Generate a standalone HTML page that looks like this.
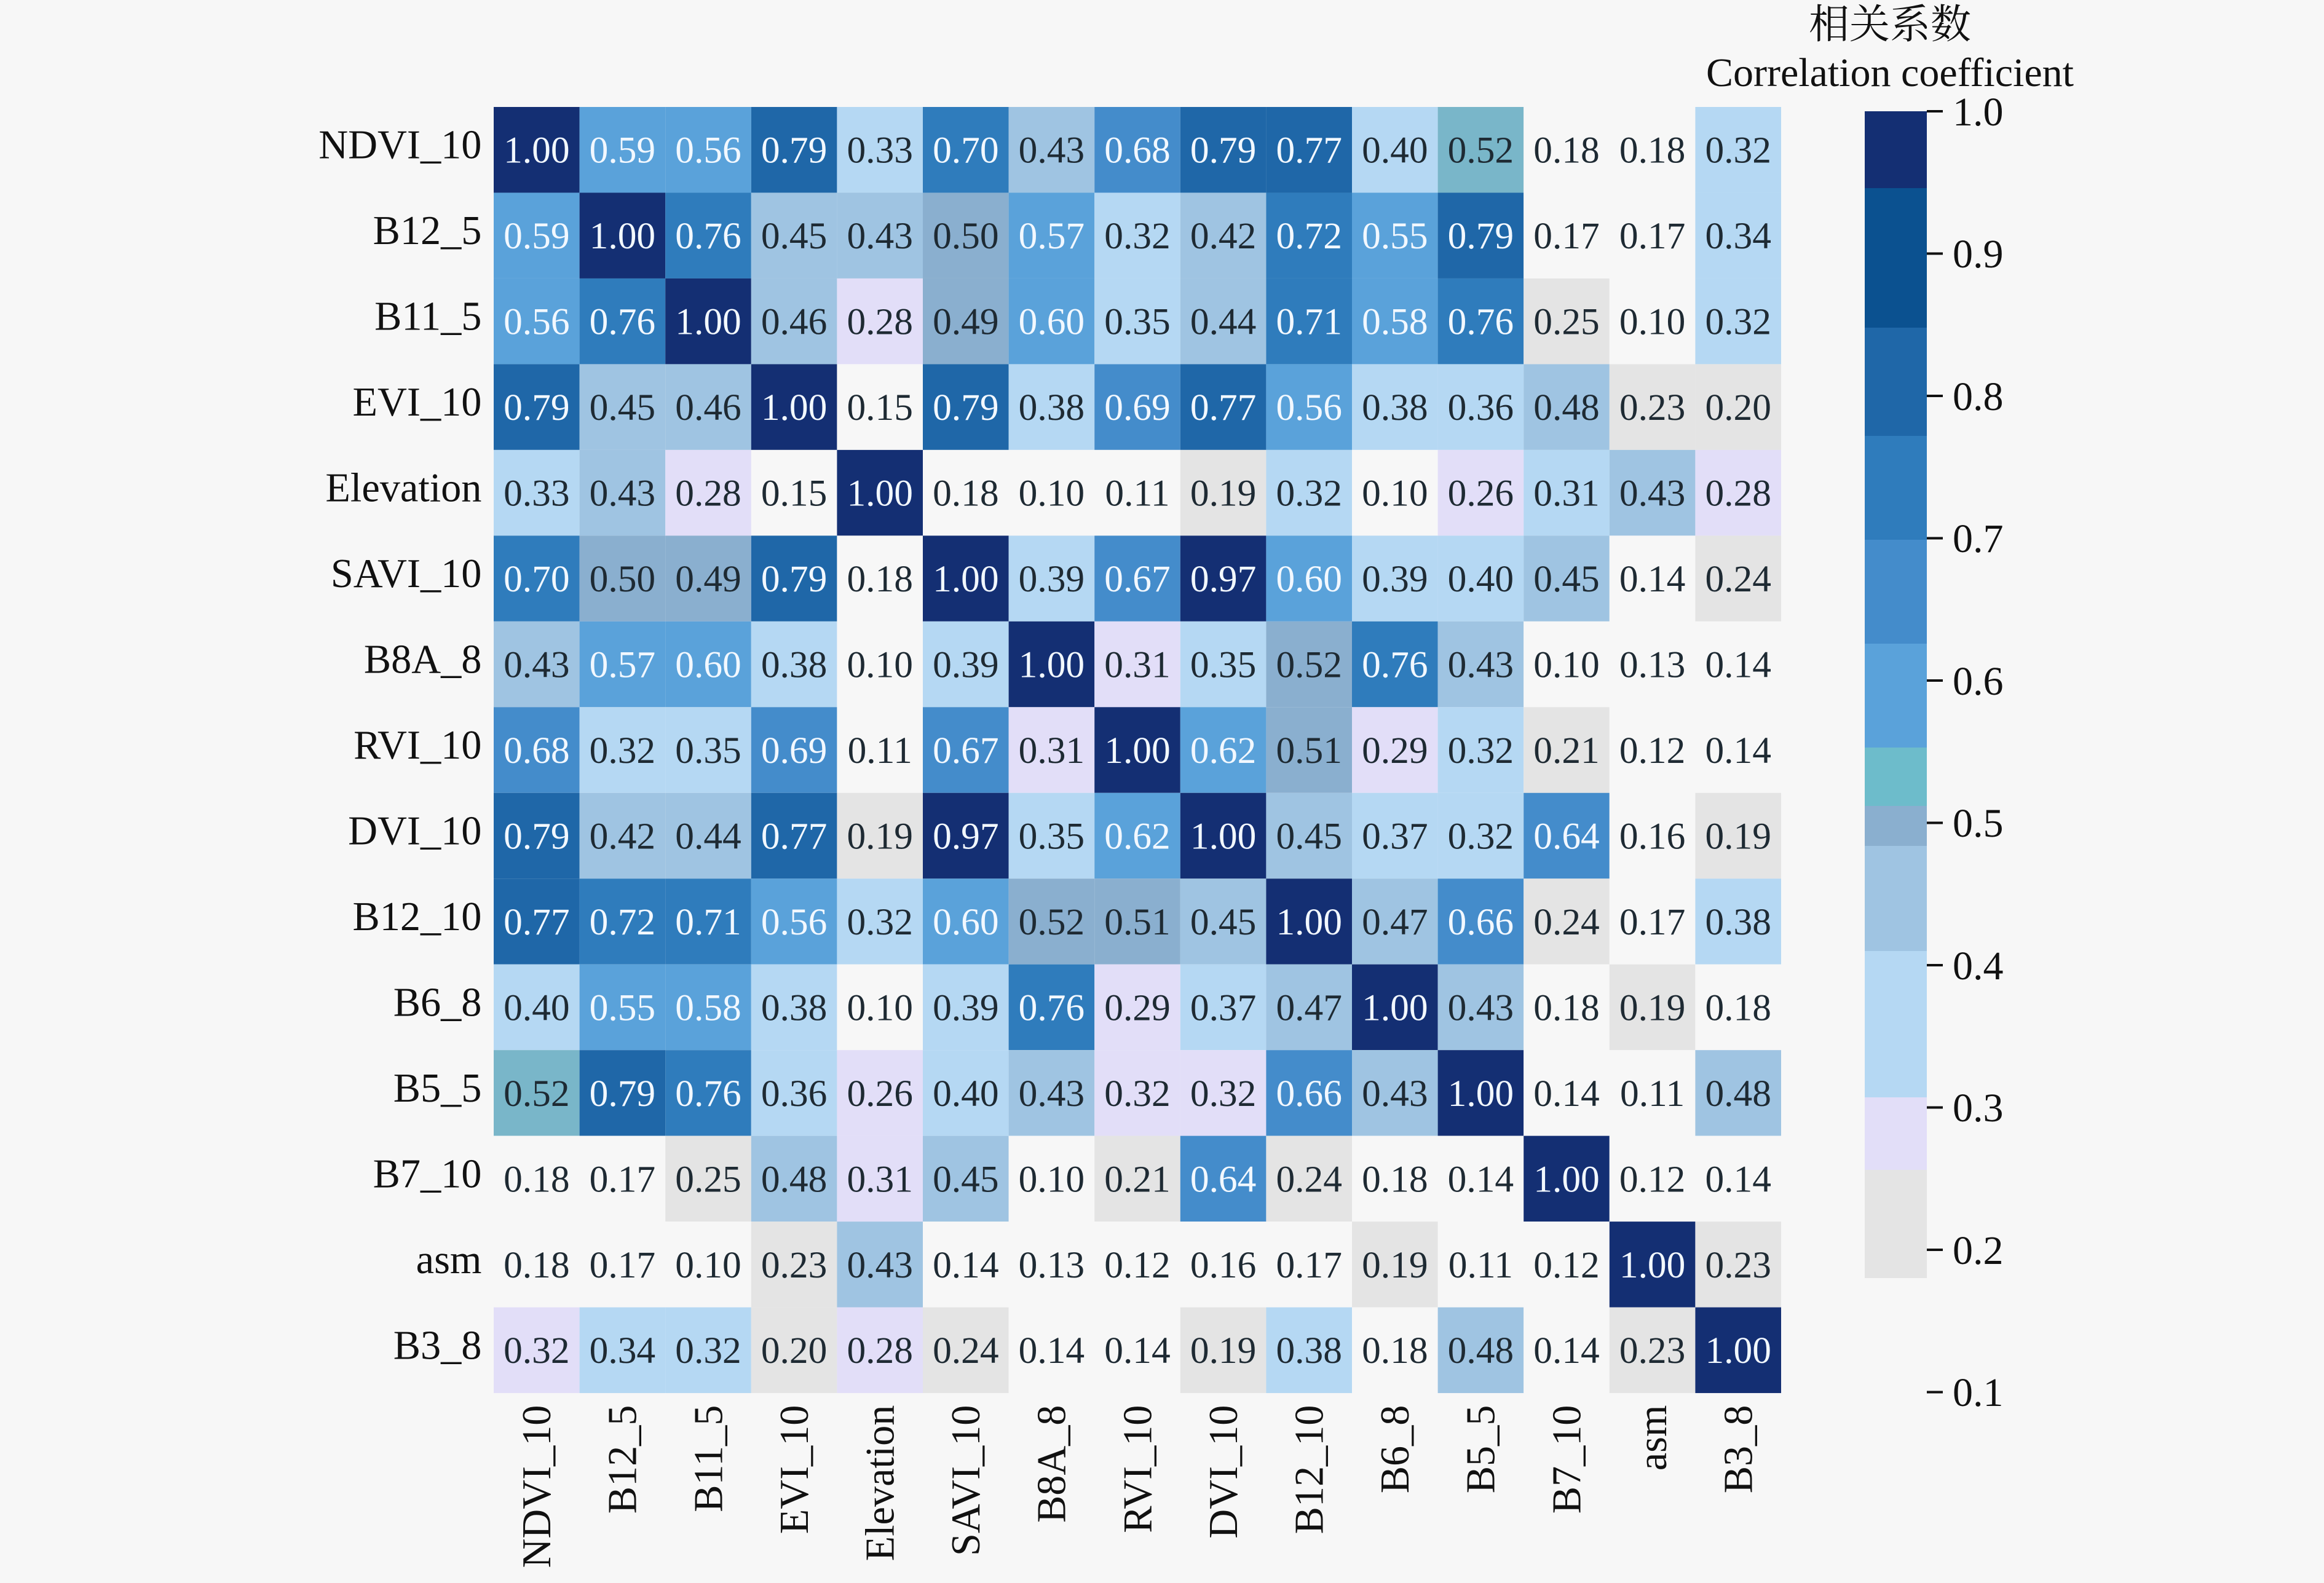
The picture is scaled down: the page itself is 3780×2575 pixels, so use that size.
<!DOCTYPE html>
<html><head><meta charset="utf-8"><style>
html,body{margin:0;padding:0;background:#f7f7f7;}
svg{display:block;font-family:"Liberation Serif","Noto Serif CJK SC",serif;}
.A{fill:#142f73}.C{fill:#1f67a8}.D{fill:#2f7cbc}.E{fill:#448ccb}.F{fill:#5aa2da}.G{fill:#79b6c9}.H{fill:#8aafcf}.I{fill:#9fc4e2}.J{fill:#b5d8f3}.K{fill:#e2def8}.L{fill:#e4e4e4}.M{fill:#f7f7f7}
#cells text{font-size:0.44px;text-anchor:middle;fill:#1e2a33}
#cells text.w{fill:#f2f8ff}
.rl{font-size:0.475px;text-anchor:end;fill:#111}
.cl{font-size:0.475px;text-anchor:end;fill:#111}
</style></head><body>
<svg width="3780" height="2575" viewBox="0 0 3780 2575" xmlns="http://www.w3.org/2000/svg">
<rect width="3780" height="2575" fill="#f7f7f7"/>
<g transform="translate(803,174) scale(139.6,139.47)">
<g id="cells">
<rect class="A" x="0" y="0" width="1" height="1"/><text class="w" x="0.5" y="0.65">1.00</text>
<rect class="F" x="1" y="0" width="1" height="1"/><text class="w" x="1.5" y="0.65">0.59</text>
<rect class="F" x="2" y="0" width="1" height="1"/><text class="w" x="2.5" y="0.65">0.56</text>
<rect class="C" x="3" y="0" width="1" height="1"/><text class="w" x="3.5" y="0.65">0.79</text>
<rect class="J" x="4" y="0" width="1" height="1"/><text x="4.5" y="0.65">0.33</text>
<rect class="D" x="5" y="0" width="1" height="1"/><text class="w" x="5.5" y="0.65">0.70</text>
<rect class="I" x="6" y="0" width="1" height="1"/><text x="6.5" y="0.65">0.43</text>
<rect class="E" x="7" y="0" width="1" height="1"/><text class="w" x="7.5" y="0.65">0.68</text>
<rect class="C" x="8" y="0" width="1" height="1"/><text class="w" x="8.5" y="0.65">0.79</text>
<rect class="C" x="9" y="0" width="1" height="1"/><text class="w" x="9.5" y="0.65">0.77</text>
<rect class="J" x="10" y="0" width="1" height="1"/><text x="10.5" y="0.65">0.40</text>
<rect class="G" x="11" y="0" width="1" height="1"/><text x="11.5" y="0.65">0.52</text>
<rect class="M" x="12" y="0" width="1" height="1"/><text x="12.5" y="0.65">0.18</text>
<rect class="M" x="13" y="0" width="1" height="1"/><text x="13.5" y="0.65">0.18</text>
<rect class="J" x="14" y="0" width="1" height="1"/><text x="14.5" y="0.65">0.32</text>
<rect class="F" x="0" y="1" width="1" height="1"/><text class="w" x="0.5" y="1.65">0.59</text>
<rect class="A" x="1" y="1" width="1" height="1"/><text class="w" x="1.5" y="1.65">1.00</text>
<rect class="D" x="2" y="1" width="1" height="1"/><text class="w" x="2.5" y="1.65">0.76</text>
<rect class="I" x="3" y="1" width="1" height="1"/><text x="3.5" y="1.65">0.45</text>
<rect class="I" x="4" y="1" width="1" height="1"/><text x="4.5" y="1.65">0.43</text>
<rect class="H" x="5" y="1" width="1" height="1"/><text x="5.5" y="1.65">0.50</text>
<rect class="F" x="6" y="1" width="1" height="1"/><text class="w" x="6.5" y="1.65">0.57</text>
<rect class="J" x="7" y="1" width="1" height="1"/><text x="7.5" y="1.65">0.32</text>
<rect class="I" x="8" y="1" width="1" height="1"/><text x="8.5" y="1.65">0.42</text>
<rect class="D" x="9" y="1" width="1" height="1"/><text class="w" x="9.5" y="1.65">0.72</text>
<rect class="F" x="10" y="1" width="1" height="1"/><text class="w" x="10.5" y="1.65">0.55</text>
<rect class="C" x="11" y="1" width="1" height="1"/><text class="w" x="11.5" y="1.65">0.79</text>
<rect class="M" x="12" y="1" width="1" height="1"/><text x="12.5" y="1.65">0.17</text>
<rect class="M" x="13" y="1" width="1" height="1"/><text x="13.5" y="1.65">0.17</text>
<rect class="J" x="14" y="1" width="1" height="1"/><text x="14.5" y="1.65">0.34</text>
<rect class="F" x="0" y="2" width="1" height="1"/><text class="w" x="0.5" y="2.65">0.56</text>
<rect class="D" x="1" y="2" width="1" height="1"/><text class="w" x="1.5" y="2.65">0.76</text>
<rect class="A" x="2" y="2" width="1" height="1"/><text class="w" x="2.5" y="2.65">1.00</text>
<rect class="I" x="3" y="2" width="1" height="1"/><text x="3.5" y="2.65">0.46</text>
<rect class="K" x="4" y="2" width="1" height="1"/><text x="4.5" y="2.65">0.28</text>
<rect class="H" x="5" y="2" width="1" height="1"/><text x="5.5" y="2.65">0.49</text>
<rect class="F" x="6" y="2" width="1" height="1"/><text class="w" x="6.5" y="2.65">0.60</text>
<rect class="J" x="7" y="2" width="1" height="1"/><text x="7.5" y="2.65">0.35</text>
<rect class="I" x="8" y="2" width="1" height="1"/><text x="8.5" y="2.65">0.44</text>
<rect class="D" x="9" y="2" width="1" height="1"/><text class="w" x="9.5" y="2.65">0.71</text>
<rect class="F" x="10" y="2" width="1" height="1"/><text class="w" x="10.5" y="2.65">0.58</text>
<rect class="D" x="11" y="2" width="1" height="1"/><text class="w" x="11.5" y="2.65">0.76</text>
<rect class="L" x="12" y="2" width="1" height="1"/><text x="12.5" y="2.65">0.25</text>
<rect class="M" x="13" y="2" width="1" height="1"/><text x="13.5" y="2.65">0.10</text>
<rect class="J" x="14" y="2" width="1" height="1"/><text x="14.5" y="2.65">0.32</text>
<rect class="C" x="0" y="3" width="1" height="1"/><text class="w" x="0.5" y="3.65">0.79</text>
<rect class="I" x="1" y="3" width="1" height="1"/><text x="1.5" y="3.65">0.45</text>
<rect class="I" x="2" y="3" width="1" height="1"/><text x="2.5" y="3.65">0.46</text>
<rect class="A" x="3" y="3" width="1" height="1"/><text class="w" x="3.5" y="3.65">1.00</text>
<rect class="M" x="4" y="3" width="1" height="1"/><text x="4.5" y="3.65">0.15</text>
<rect class="C" x="5" y="3" width="1" height="1"/><text class="w" x="5.5" y="3.65">0.79</text>
<rect class="J" x="6" y="3" width="1" height="1"/><text x="6.5" y="3.65">0.38</text>
<rect class="E" x="7" y="3" width="1" height="1"/><text class="w" x="7.5" y="3.65">0.69</text>
<rect class="C" x="8" y="3" width="1" height="1"/><text class="w" x="8.5" y="3.65">0.77</text>
<rect class="F" x="9" y="3" width="1" height="1"/><text class="w" x="9.5" y="3.65">0.56</text>
<rect class="J" x="10" y="3" width="1" height="1"/><text x="10.5" y="3.65">0.38</text>
<rect class="J" x="11" y="3" width="1" height="1"/><text x="11.5" y="3.65">0.36</text>
<rect class="I" x="12" y="3" width="1" height="1"/><text x="12.5" y="3.65">0.48</text>
<rect class="L" x="13" y="3" width="1" height="1"/><text x="13.5" y="3.65">0.23</text>
<rect class="L" x="14" y="3" width="1" height="1"/><text x="14.5" y="3.65">0.20</text>
<rect class="J" x="0" y="4" width="1" height="1"/><text x="0.5" y="4.65">0.33</text>
<rect class="I" x="1" y="4" width="1" height="1"/><text x="1.5" y="4.65">0.43</text>
<rect class="K" x="2" y="4" width="1" height="1"/><text x="2.5" y="4.65">0.28</text>
<rect class="M" x="3" y="4" width="1" height="1"/><text x="3.5" y="4.65">0.15</text>
<rect class="A" x="4" y="4" width="1" height="1"/><text class="w" x="4.5" y="4.65">1.00</text>
<rect class="M" x="5" y="4" width="1" height="1"/><text x="5.5" y="4.65">0.18</text>
<rect class="M" x="6" y="4" width="1" height="1"/><text x="6.5" y="4.65">0.10</text>
<rect class="M" x="7" y="4" width="1" height="1"/><text x="7.5" y="4.65">0.11</text>
<rect class="L" x="8" y="4" width="1" height="1"/><text x="8.5" y="4.65">0.19</text>
<rect class="J" x="9" y="4" width="1" height="1"/><text x="9.5" y="4.65">0.32</text>
<rect class="M" x="10" y="4" width="1" height="1"/><text x="10.5" y="4.65">0.10</text>
<rect class="K" x="11" y="4" width="1" height="1"/><text x="11.5" y="4.65">0.26</text>
<rect class="J" x="12" y="4" width="1" height="1"/><text x="12.5" y="4.65">0.31</text>
<rect class="I" x="13" y="4" width="1" height="1"/><text x="13.5" y="4.65">0.43</text>
<rect class="K" x="14" y="4" width="1" height="1"/><text x="14.5" y="4.65">0.28</text>
<rect class="D" x="0" y="5" width="1" height="1"/><text class="w" x="0.5" y="5.65">0.70</text>
<rect class="H" x="1" y="5" width="1" height="1"/><text x="1.5" y="5.65">0.50</text>
<rect class="H" x="2" y="5" width="1" height="1"/><text x="2.5" y="5.65">0.49</text>
<rect class="C" x="3" y="5" width="1" height="1"/><text class="w" x="3.5" y="5.65">0.79</text>
<rect class="M" x="4" y="5" width="1" height="1"/><text x="4.5" y="5.65">0.18</text>
<rect class="A" x="5" y="5" width="1" height="1"/><text class="w" x="5.5" y="5.65">1.00</text>
<rect class="J" x="6" y="5" width="1" height="1"/><text x="6.5" y="5.65">0.39</text>
<rect class="E" x="7" y="5" width="1" height="1"/><text class="w" x="7.5" y="5.65">0.67</text>
<rect class="A" x="8" y="5" width="1" height="1"/><text class="w" x="8.5" y="5.65">0.97</text>
<rect class="F" x="9" y="5" width="1" height="1"/><text class="w" x="9.5" y="5.65">0.60</text>
<rect class="J" x="10" y="5" width="1" height="1"/><text x="10.5" y="5.65">0.39</text>
<rect class="J" x="11" y="5" width="1" height="1"/><text x="11.5" y="5.65">0.40</text>
<rect class="I" x="12" y="5" width="1" height="1"/><text x="12.5" y="5.65">0.45</text>
<rect class="M" x="13" y="5" width="1" height="1"/><text x="13.5" y="5.65">0.14</text>
<rect class="L" x="14" y="5" width="1" height="1"/><text x="14.5" y="5.65">0.24</text>
<rect class="I" x="0" y="6" width="1" height="1"/><text x="0.5" y="6.65">0.43</text>
<rect class="F" x="1" y="6" width="1" height="1"/><text class="w" x="1.5" y="6.65">0.57</text>
<rect class="F" x="2" y="6" width="1" height="1"/><text class="w" x="2.5" y="6.65">0.60</text>
<rect class="J" x="3" y="6" width="1" height="1"/><text x="3.5" y="6.65">0.38</text>
<rect class="M" x="4" y="6" width="1" height="1"/><text x="4.5" y="6.65">0.10</text>
<rect class="J" x="5" y="6" width="1" height="1"/><text x="5.5" y="6.65">0.39</text>
<rect class="A" x="6" y="6" width="1" height="1"/><text class="w" x="6.5" y="6.65">1.00</text>
<rect class="K" x="7" y="6" width="1" height="1"/><text x="7.5" y="6.65">0.31</text>
<rect class="J" x="8" y="6" width="1" height="1"/><text x="8.5" y="6.65">0.35</text>
<rect class="H" x="9" y="6" width="1" height="1"/><text x="9.5" y="6.65">0.52</text>
<rect class="D" x="10" y="6" width="1" height="1"/><text class="w" x="10.5" y="6.65">0.76</text>
<rect class="I" x="11" y="6" width="1" height="1"/><text x="11.5" y="6.65">0.43</text>
<rect class="M" x="12" y="6" width="1" height="1"/><text x="12.5" y="6.65">0.10</text>
<rect class="M" x="13" y="6" width="1" height="1"/><text x="13.5" y="6.65">0.13</text>
<rect class="M" x="14" y="6" width="1" height="1"/><text x="14.5" y="6.65">0.14</text>
<rect class="E" x="0" y="7" width="1" height="1"/><text class="w" x="0.5" y="7.65">0.68</text>
<rect class="J" x="1" y="7" width="1" height="1"/><text x="1.5" y="7.65">0.32</text>
<rect class="J" x="2" y="7" width="1" height="1"/><text x="2.5" y="7.65">0.35</text>
<rect class="E" x="3" y="7" width="1" height="1"/><text class="w" x="3.5" y="7.65">0.69</text>
<rect class="M" x="4" y="7" width="1" height="1"/><text x="4.5" y="7.65">0.11</text>
<rect class="E" x="5" y="7" width="1" height="1"/><text class="w" x="5.5" y="7.65">0.67</text>
<rect class="K" x="6" y="7" width="1" height="1"/><text x="6.5" y="7.65">0.31</text>
<rect class="A" x="7" y="7" width="1" height="1"/><text class="w" x="7.5" y="7.65">1.00</text>
<rect class="F" x="8" y="7" width="1" height="1"/><text class="w" x="8.5" y="7.65">0.62</text>
<rect class="H" x="9" y="7" width="1" height="1"/><text x="9.5" y="7.65">0.51</text>
<rect class="K" x="10" y="7" width="1" height="1"/><text x="10.5" y="7.65">0.29</text>
<rect class="J" x="11" y="7" width="1" height="1"/><text x="11.5" y="7.65">0.32</text>
<rect class="L" x="12" y="7" width="1" height="1"/><text x="12.5" y="7.65">0.21</text>
<rect class="M" x="13" y="7" width="1" height="1"/><text x="13.5" y="7.65">0.12</text>
<rect class="M" x="14" y="7" width="1" height="1"/><text x="14.5" y="7.65">0.14</text>
<rect class="C" x="0" y="8" width="1" height="1"/><text class="w" x="0.5" y="8.65">0.79</text>
<rect class="I" x="1" y="8" width="1" height="1"/><text x="1.5" y="8.65">0.42</text>
<rect class="I" x="2" y="8" width="1" height="1"/><text x="2.5" y="8.65">0.44</text>
<rect class="C" x="3" y="8" width="1" height="1"/><text class="w" x="3.5" y="8.65">0.77</text>
<rect class="L" x="4" y="8" width="1" height="1"/><text x="4.5" y="8.65">0.19</text>
<rect class="A" x="5" y="8" width="1" height="1"/><text class="w" x="5.5" y="8.65">0.97</text>
<rect class="J" x="6" y="8" width="1" height="1"/><text x="6.5" y="8.65">0.35</text>
<rect class="F" x="7" y="8" width="1" height="1"/><text class="w" x="7.5" y="8.65">0.62</text>
<rect class="A" x="8" y="8" width="1" height="1"/><text class="w" x="8.5" y="8.65">1.00</text>
<rect class="I" x="9" y="8" width="1" height="1"/><text x="9.5" y="8.65">0.45</text>
<rect class="J" x="10" y="8" width="1" height="1"/><text x="10.5" y="8.65">0.37</text>
<rect class="J" x="11" y="8" width="1" height="1"/><text x="11.5" y="8.65">0.32</text>
<rect class="E" x="12" y="8" width="1" height="1"/><text class="w" x="12.5" y="8.65">0.64</text>
<rect class="M" x="13" y="8" width="1" height="1"/><text x="13.5" y="8.65">0.16</text>
<rect class="L" x="14" y="8" width="1" height="1"/><text x="14.5" y="8.65">0.19</text>
<rect class="C" x="0" y="9" width="1" height="1"/><text class="w" x="0.5" y="9.65">0.77</text>
<rect class="D" x="1" y="9" width="1" height="1"/><text class="w" x="1.5" y="9.65">0.72</text>
<rect class="D" x="2" y="9" width="1" height="1"/><text class="w" x="2.5" y="9.65">0.71</text>
<rect class="F" x="3" y="9" width="1" height="1"/><text class="w" x="3.5" y="9.65">0.56</text>
<rect class="J" x="4" y="9" width="1" height="1"/><text x="4.5" y="9.65">0.32</text>
<rect class="F" x="5" y="9" width="1" height="1"/><text class="w" x="5.5" y="9.65">0.60</text>
<rect class="H" x="6" y="9" width="1" height="1"/><text x="6.5" y="9.65">0.52</text>
<rect class="H" x="7" y="9" width="1" height="1"/><text x="7.5" y="9.65">0.51</text>
<rect class="I" x="8" y="9" width="1" height="1"/><text x="8.5" y="9.65">0.45</text>
<rect class="A" x="9" y="9" width="1" height="1"/><text class="w" x="9.5" y="9.65">1.00</text>
<rect class="I" x="10" y="9" width="1" height="1"/><text x="10.5" y="9.65">0.47</text>
<rect class="E" x="11" y="9" width="1" height="1"/><text class="w" x="11.5" y="9.65">0.66</text>
<rect class="L" x="12" y="9" width="1" height="1"/><text x="12.5" y="9.65">0.24</text>
<rect class="M" x="13" y="9" width="1" height="1"/><text x="13.5" y="9.65">0.17</text>
<rect class="J" x="14" y="9" width="1" height="1"/><text x="14.5" y="9.65">0.38</text>
<rect class="J" x="0" y="10" width="1" height="1"/><text x="0.5" y="10.65">0.40</text>
<rect class="F" x="1" y="10" width="1" height="1"/><text class="w" x="1.5" y="10.65">0.55</text>
<rect class="F" x="2" y="10" width="1" height="1"/><text class="w" x="2.5" y="10.65">0.58</text>
<rect class="J" x="3" y="10" width="1" height="1"/><text x="3.5" y="10.65">0.38</text>
<rect class="M" x="4" y="10" width="1" height="1"/><text x="4.5" y="10.65">0.10</text>
<rect class="J" x="5" y="10" width="1" height="1"/><text x="5.5" y="10.65">0.39</text>
<rect class="D" x="6" y="10" width="1" height="1"/><text class="w" x="6.5" y="10.65">0.76</text>
<rect class="K" x="7" y="10" width="1" height="1"/><text x="7.5" y="10.65">0.29</text>
<rect class="J" x="8" y="10" width="1" height="1"/><text x="8.5" y="10.65">0.37</text>
<rect class="I" x="9" y="10" width="1" height="1"/><text x="9.5" y="10.65">0.47</text>
<rect class="A" x="10" y="10" width="1" height="1"/><text class="w" x="10.5" y="10.65">1.00</text>
<rect class="I" x="11" y="10" width="1" height="1"/><text x="11.5" y="10.65">0.43</text>
<rect class="M" x="12" y="10" width="1" height="1"/><text x="12.5" y="10.65">0.18</text>
<rect class="L" x="13" y="10" width="1" height="1"/><text x="13.5" y="10.65">0.19</text>
<rect class="M" x="14" y="10" width="1" height="1"/><text x="14.5" y="10.65">0.18</text>
<rect class="G" x="0" y="11" width="1" height="1"/><text x="0.5" y="11.65">0.52</text>
<rect class="C" x="1" y="11" width="1" height="1"/><text class="w" x="1.5" y="11.65">0.79</text>
<rect class="D" x="2" y="11" width="1" height="1"/><text class="w" x="2.5" y="11.65">0.76</text>
<rect class="J" x="3" y="11" width="1" height="1"/><text x="3.5" y="11.65">0.36</text>
<rect class="K" x="4" y="11" width="1" height="1"/><text x="4.5" y="11.65">0.26</text>
<rect class="J" x="5" y="11" width="1" height="1"/><text x="5.5" y="11.65">0.40</text>
<rect class="I" x="6" y="11" width="1" height="1"/><text x="6.5" y="11.65">0.43</text>
<rect class="K" x="7" y="11" width="1" height="1"/><text x="7.5" y="11.65">0.32</text>
<rect class="K" x="8" y="11" width="1" height="1"/><text x="8.5" y="11.65">0.32</text>
<rect class="E" x="9" y="11" width="1" height="1"/><text class="w" x="9.5" y="11.65">0.66</text>
<rect class="I" x="10" y="11" width="1" height="1"/><text x="10.5" y="11.65">0.43</text>
<rect class="A" x="11" y="11" width="1" height="1"/><text class="w" x="11.5" y="11.65">1.00</text>
<rect class="M" x="12" y="11" width="1" height="1"/><text x="12.5" y="11.65">0.14</text>
<rect class="M" x="13" y="11" width="1" height="1"/><text x="13.5" y="11.65">0.11</text>
<rect class="I" x="14" y="11" width="1" height="1"/><text x="14.5" y="11.65">0.48</text>
<rect class="M" x="0" y="12" width="1" height="1"/><text x="0.5" y="12.65">0.18</text>
<rect class="M" x="1" y="12" width="1" height="1"/><text x="1.5" y="12.65">0.17</text>
<rect class="L" x="2" y="12" width="1" height="1"/><text x="2.5" y="12.65">0.25</text>
<rect class="I" x="3" y="12" width="1" height="1"/><text x="3.5" y="12.65">0.48</text>
<rect class="K" x="4" y="12" width="1" height="1"/><text x="4.5" y="12.65">0.31</text>
<rect class="I" x="5" y="12" width="1" height="1"/><text x="5.5" y="12.65">0.45</text>
<rect class="M" x="6" y="12" width="1" height="1"/><text x="6.5" y="12.65">0.10</text>
<rect class="L" x="7" y="12" width="1" height="1"/><text x="7.5" y="12.65">0.21</text>
<rect class="E" x="8" y="12" width="1" height="1"/><text class="w" x="8.5" y="12.65">0.64</text>
<rect class="L" x="9" y="12" width="1" height="1"/><text x="9.5" y="12.65">0.24</text>
<rect class="M" x="10" y="12" width="1" height="1"/><text x="10.5" y="12.65">0.18</text>
<rect class="M" x="11" y="12" width="1" height="1"/><text x="11.5" y="12.65">0.14</text>
<rect class="A" x="12" y="12" width="1" height="1"/><text class="w" x="12.5" y="12.65">1.00</text>
<rect class="M" x="13" y="12" width="1" height="1"/><text x="13.5" y="12.65">0.12</text>
<rect class="M" x="14" y="12" width="1" height="1"/><text x="14.5" y="12.65">0.14</text>
<rect class="M" x="0" y="13" width="1" height="1"/><text x="0.5" y="13.65">0.18</text>
<rect class="M" x="1" y="13" width="1" height="1"/><text x="1.5" y="13.65">0.17</text>
<rect class="M" x="2" y="13" width="1" height="1"/><text x="2.5" y="13.65">0.10</text>
<rect class="L" x="3" y="13" width="1" height="1"/><text x="3.5" y="13.65">0.23</text>
<rect class="I" x="4" y="13" width="1" height="1"/><text x="4.5" y="13.65">0.43</text>
<rect class="M" x="5" y="13" width="1" height="1"/><text x="5.5" y="13.65">0.14</text>
<rect class="M" x="6" y="13" width="1" height="1"/><text x="6.5" y="13.65">0.13</text>
<rect class="M" x="7" y="13" width="1" height="1"/><text x="7.5" y="13.65">0.12</text>
<rect class="M" x="8" y="13" width="1" height="1"/><text x="8.5" y="13.65">0.16</text>
<rect class="M" x="9" y="13" width="1" height="1"/><text x="9.5" y="13.65">0.17</text>
<rect class="L" x="10" y="13" width="1" height="1"/><text x="10.5" y="13.65">0.19</text>
<rect class="M" x="11" y="13" width="1" height="1"/><text x="11.5" y="13.65">0.11</text>
<rect class="M" x="12" y="13" width="1" height="1"/><text x="12.5" y="13.65">0.12</text>
<rect class="A" x="13" y="13" width="1" height="1"/><text class="w" x="13.5" y="13.65">1.00</text>
<rect class="L" x="14" y="13" width="1" height="1"/><text x="14.5" y="13.65">0.23</text>
<rect class="K" x="0" y="14" width="1" height="1"/><text x="0.5" y="14.65">0.32</text>
<rect class="J" x="1" y="14" width="1" height="1"/><text x="1.5" y="14.65">0.34</text>
<rect class="J" x="2" y="14" width="1" height="1"/><text x="2.5" y="14.65">0.32</text>
<rect class="L" x="3" y="14" width="1" height="1"/><text x="3.5" y="14.65">0.20</text>
<rect class="K" x="4" y="14" width="1" height="1"/><text x="4.5" y="14.65">0.28</text>
<rect class="L" x="5" y="14" width="1" height="1"/><text x="5.5" y="14.65">0.24</text>
<rect class="M" x="6" y="14" width="1" height="1"/><text x="6.5" y="14.65">0.14</text>
<rect class="M" x="7" y="14" width="1" height="1"/><text x="7.5" y="14.65">0.14</text>
<rect class="L" x="8" y="14" width="1" height="1"/><text x="8.5" y="14.65">0.19</text>
<rect class="J" x="9" y="14" width="1" height="1"/><text x="9.5" y="14.65">0.38</text>
<rect class="M" x="10" y="14" width="1" height="1"/><text x="10.5" y="14.65">0.18</text>
<rect class="I" x="11" y="14" width="1" height="1"/><text x="11.5" y="14.65">0.48</text>
<rect class="M" x="12" y="14" width="1" height="1"/><text x="12.5" y="14.65">0.14</text>
<rect class="L" x="13" y="14" width="1" height="1"/><text x="13.5" y="14.65">0.23</text>
<rect class="A" x="14" y="14" width="1" height="1"/><text class="w" x="14.5" y="14.65">1.00</text>
</g>
<g>
<text class="rl" x="-0.14" y="0.6">NDVI_10</text>
<text class="rl" x="-0.14" y="1.6">B12_5</text>
<text class="rl" x="-0.14" y="2.6">B11_5</text>
<text class="rl" x="-0.14" y="3.6">EVI_10</text>
<text class="rl" x="-0.14" y="4.6">Elevation</text>
<text class="rl" x="-0.14" y="5.6">SAVI_10</text>
<text class="rl" x="-0.14" y="6.6">B8A_8</text>
<text class="rl" x="-0.14" y="7.6">RVI_10</text>
<text class="rl" x="-0.14" y="8.6">DVI_10</text>
<text class="rl" x="-0.14" y="9.6">B12_10</text>
<text class="rl" x="-0.14" y="10.6">B6_8</text>
<text class="rl" x="-0.14" y="11.6">B5_5</text>
<text class="rl" x="-0.14" y="12.6">B7_10</text>
<text class="rl" x="-0.14" y="13.6">asm</text>
<text class="rl" x="-0.14" y="14.6">B3_8</text>
</g>
<g>
<text class="cl" transform="translate(0.66,15.14) rotate(-90)">NDVI_10</text>
<text class="cl" transform="translate(1.66,15.14) rotate(-90)">B12_5</text>
<text class="cl" transform="translate(2.66,15.14) rotate(-90)">B11_5</text>
<text class="cl" transform="translate(3.66,15.14) rotate(-90)">EVI_10</text>
<text class="cl" transform="translate(4.66,15.14) rotate(-90)">Elevation</text>
<text class="cl" transform="translate(5.66,15.14) rotate(-90)">SAVI_10</text>
<text class="cl" transform="translate(6.66,15.14) rotate(-90)">B8A_8</text>
<text class="cl" transform="translate(7.66,15.14) rotate(-90)">RVI_10</text>
<text class="cl" transform="translate(8.66,15.14) rotate(-90)">DVI_10</text>
<text class="cl" transform="translate(9.66,15.14) rotate(-90)">B12_10</text>
<text class="cl" transform="translate(10.66,15.14) rotate(-90)">B6_8</text>
<text class="cl" transform="translate(11.66,15.14) rotate(-90)">B5_5</text>
<text class="cl" transform="translate(12.66,15.14) rotate(-90)">B7_10</text>
<text class="cl" transform="translate(13.66,15.14) rotate(-90)">asm</text>
<text class="cl" transform="translate(14.66,15.14) rotate(-90)">B3_8</text>
</g>
</g>
<g>
<rect x="3033" y="181" width="101" height="125" fill="#142f73"/>
<rect x="3033" y="306" width="101" height="227" fill="#0b5190"/>
<rect x="3033" y="533" width="101" height="176" fill="#1f67a8"/>
<rect x="3033" y="709" width="101" height="169" fill="#2f7cbc"/>
<rect x="3033" y="878" width="101" height="169" fill="#448ccb"/>
<rect x="3033" y="1047" width="101" height="169" fill="#5aa2da"/>
<rect x="3033" y="1216" width="101" height="95" fill="#6dbccb"/>
<rect x="3033" y="1311" width="101" height="65" fill="#8aafcf"/>
<rect x="3033" y="1376" width="101" height="171" fill="#9fc4e2"/>
<rect x="3033" y="1547" width="101" height="238" fill="#b5d8f3"/>
<rect x="3033" y="1785" width="101" height="118" fill="#e2def8"/>
<rect x="3033" y="1903" width="101" height="176" fill="#e4e4e4"/>
</g>
<g stroke="#111" stroke-width="4">
<line x1="3134" y1="181" x2="3160" y2="181"/>
<line x1="3134" y1="412.5" x2="3160" y2="412.5"/>
<line x1="3134" y1="644" x2="3160" y2="644"/>
<line x1="3134" y1="875.5" x2="3160" y2="875.5"/>
<line x1="3134" y1="1107" x2="3160" y2="1107"/>
<line x1="3134" y1="1338.5" x2="3160" y2="1338.5"/>
<line x1="3134" y1="1570" x2="3160" y2="1570"/>
<line x1="3134" y1="1801.5" x2="3160" y2="1801.5"/>
<line x1="3134" y1="2033" x2="3160" y2="2033"/>
<line x1="3134" y1="2264.5" x2="3160" y2="2264.5"/>
</g>
<g font-size="66" fill="#111">
<text x="3176" y="204">1.0</text>
<text x="3176" y="435">0.9</text>
<text x="3176" y="667">0.8</text>
<text x="3176" y="898">0.7</text>
<text x="3176" y="1130">0.6</text>
<text x="3176" y="1361">0.5</text>
<text x="3176" y="1593">0.4</text>
<text x="3176" y="1824">0.3</text>
<text x="3176" y="2056">0.2</text>
<text x="3176" y="2287">0.1</text>
</g>
<text x="3074" y="62" font-size="66" text-anchor="middle" fill="#111">相关系数</text>
<text x="3074" y="140" font-size="66" text-anchor="middle" fill="#111">Correlation coefficient</text>
</svg>
</body></html>
